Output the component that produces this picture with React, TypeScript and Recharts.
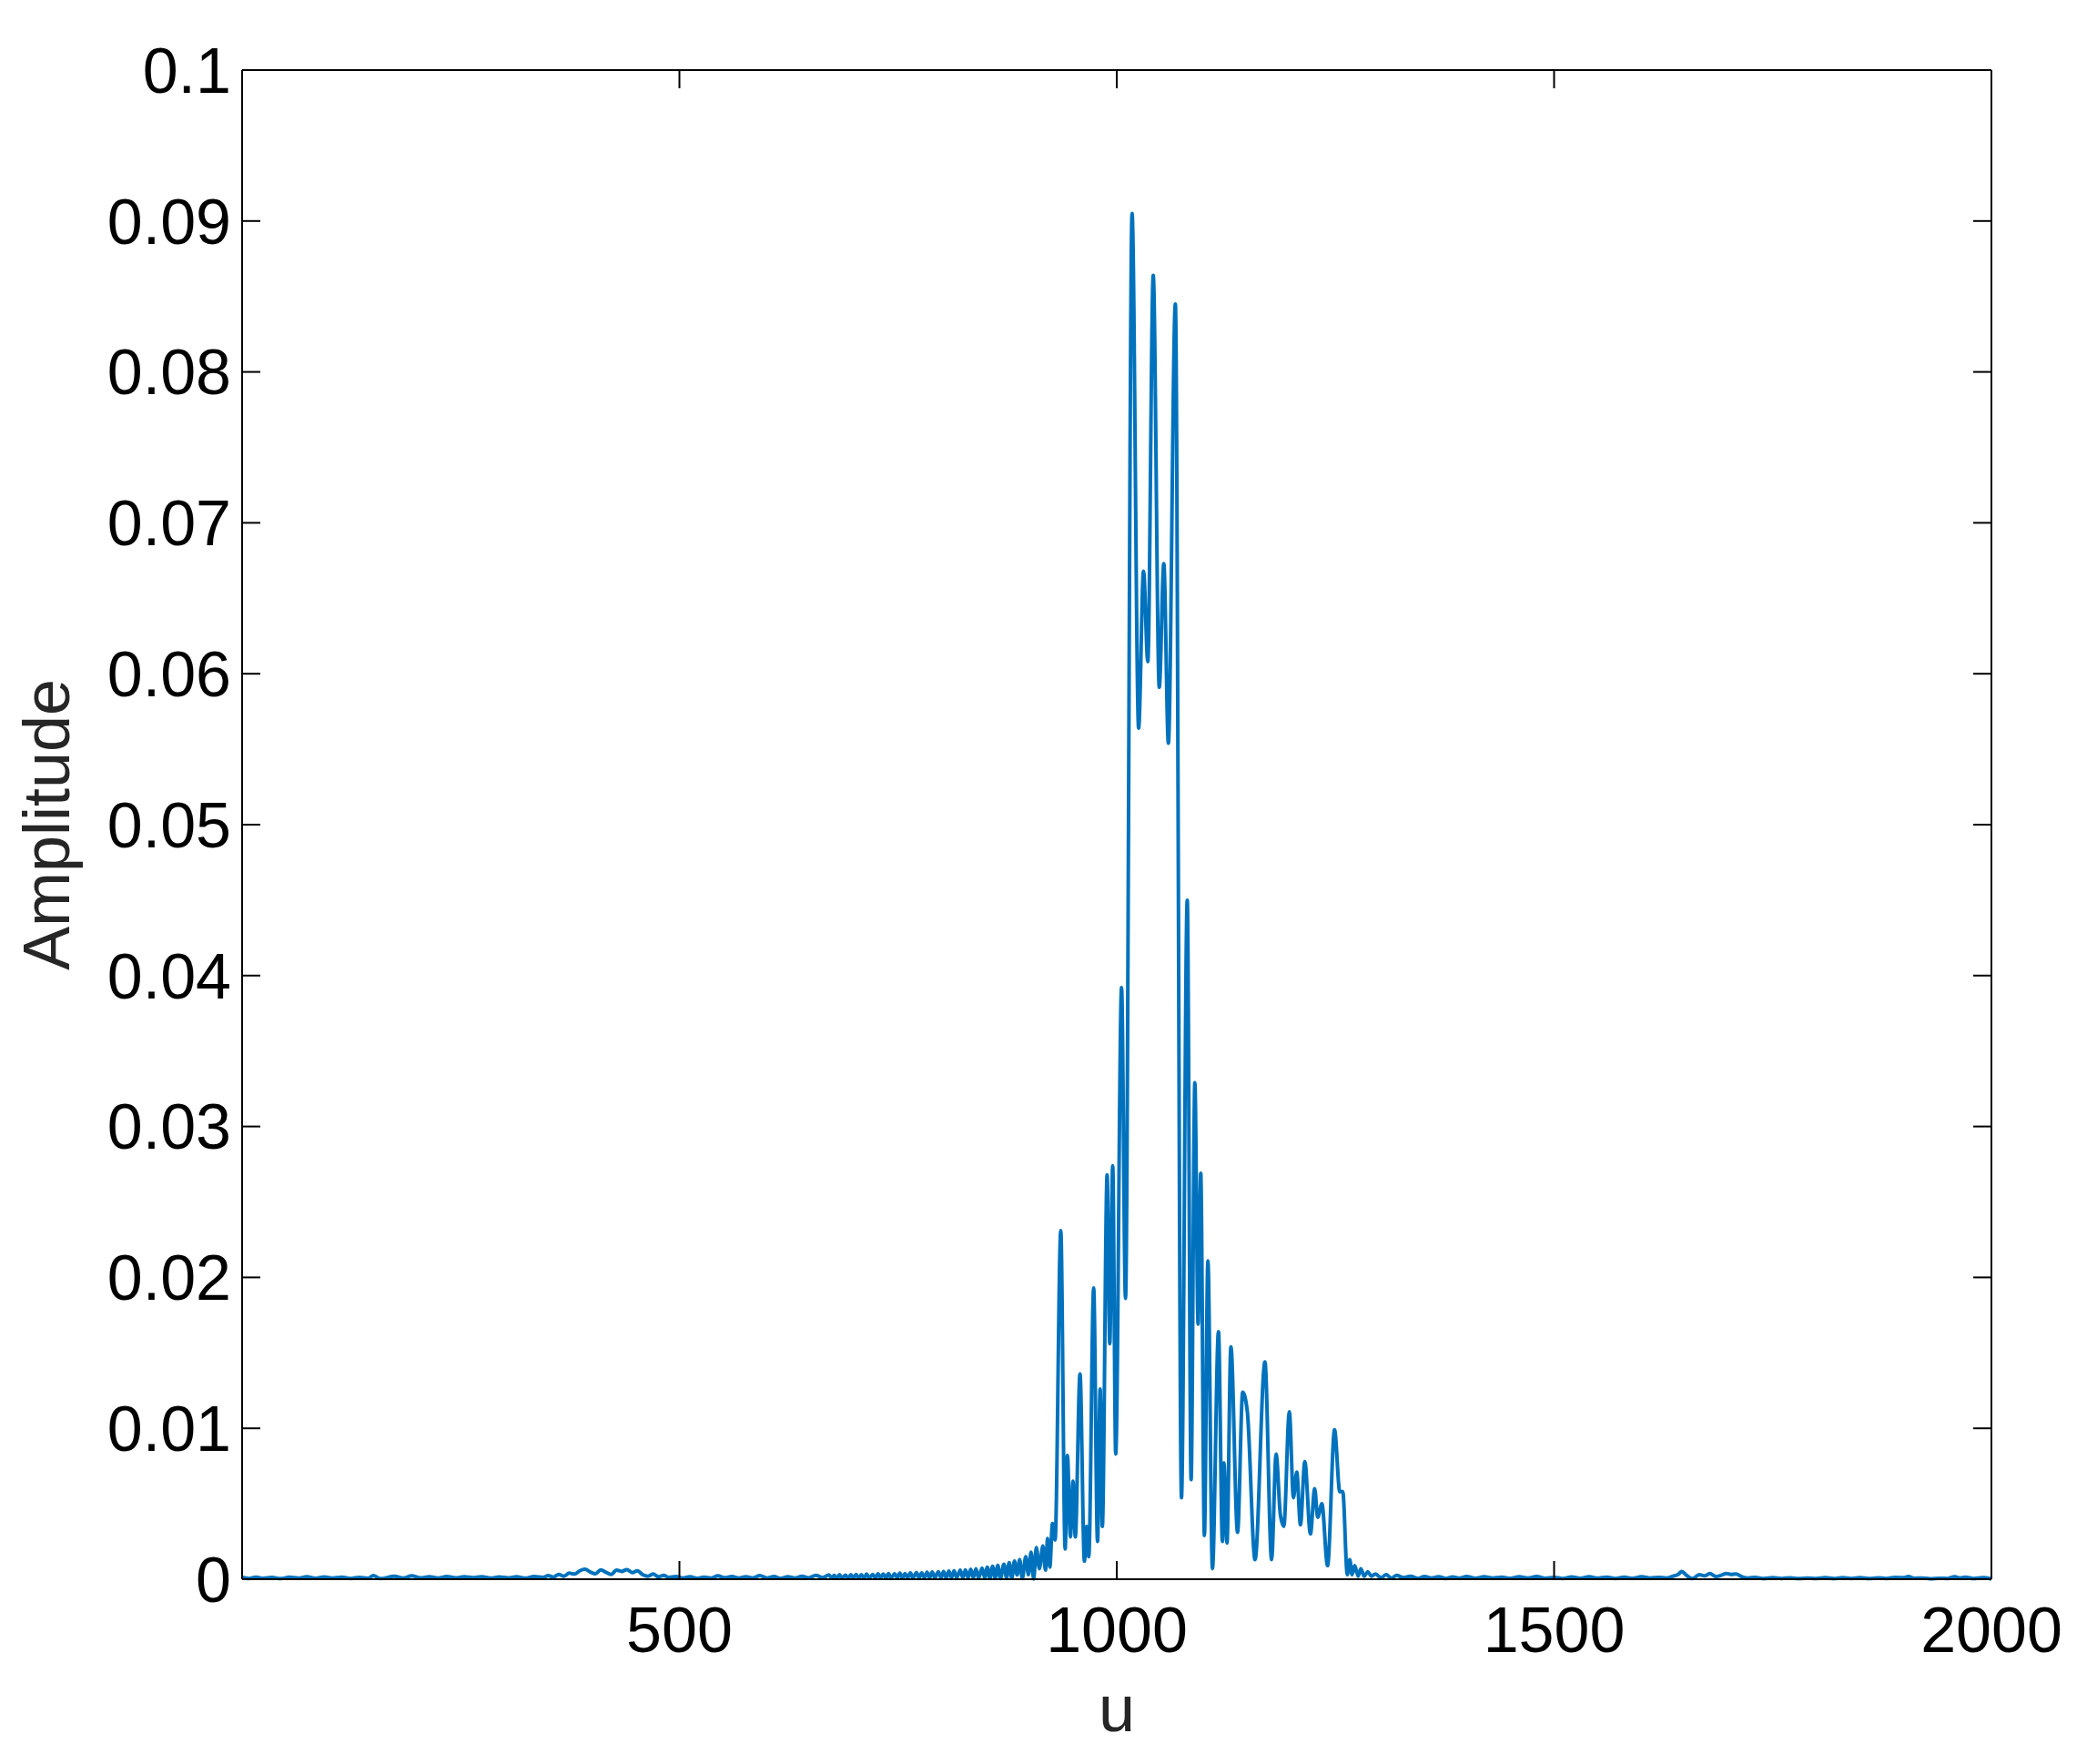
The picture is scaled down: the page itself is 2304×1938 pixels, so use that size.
import { LineChart, Line, XAxis, YAxis } from 'recharts';

const FONT = '"Liberation Sans", Arial, Helvetica, sans-serif';
const LINE_COLOR = '#0072BD';

// [u, amplitude], left to right
const leftNoise = [
  [0, 0.00012], [8, 0.00005], [16, 0.00014], [24, 0.00006], [34, 0.00012], [44, 0.00004],
  [54, 0.00013], [64, 0.00007], [74, 0.00016], [84, 0.00006], [94, 0.00015], [104, 0.00008],
  [114, 0.00014], [124, 0.00005], [134, 0.00012], [144, 0.00006], [150, 0.00024], [158, 0.00004],
  [174, 0.00019], [184, 0.00008], [194, 0.00022], [204, 0.00009], [214, 0.00017], [224, 0.00008],
  [234, 0.00018], [244, 0.00009], [254, 0.00016], [264, 0.0001], [274, 0.00017], [284, 0.00008],
  [294, 0.00015], [304, 0.00009], [314, 0.00016], [324, 0.00007], [334, 0.00018],
];

const leftHump = [
  [344, 0.00012], [350, 0.00024], [356, 0.00014], [362, 0.00032], [368, 0.0002], [374, 0.0004],
  [380, 0.00034], [386, 0.00056], [392, 0.00066], [398, 0.00048], [404, 0.00036], [410, 0.00062],
  [416, 0.00046], [422, 0.00032], [428, 0.0006], [434, 0.00052], [440, 0.00064], [446, 0.00044],
  [452, 0.00056], [458, 0.0003], [464, 0.0002], [470, 0.00034], [476, 0.00016], [482, 0.00026],
  [488, 0.00012],
];

const midNoise = [
  [496, 0.00018], [504, 0.00008], [512, 0.00016], [520, 0.00006], [528, 0.00014], [536, 0.00008],
  [544, 0.00022], [552, 0.0001], [560, 0.00018], [568, 0.00008], [576, 0.00016], [584, 0.00009],
  [592, 0.00024], [600, 0.00008], [608, 0.00018], [616, 0.00006], [624, 0.00016], [632, 0.00008],
  [640, 0.00019], [648, 0.00009], [656, 0.00026], [664, 0.00011],
];

const risingTail = [
  [671, 0.00028], [674, 0.00008], [677, 0.00026], [680, 0.00006], [683, 0.0003], [686, 0.00008],
  [690, 0.00027], [693, 0.00006], [696, 0.0003], [699, 0.00009], [702, 0.00032], [705, 0.00007],
  [708, 0.0003], [711, 0.00008], [714, 0.00034], [717, 0.00008], [721, 0.00032], [724, 0.00007],
  [727, 0.00036], [730, 0.0001], [733, 0.00034], [736, 0.00008], [739, 0.00038], [742, 0.00008],
  [746, 0.00036], [749, 0.0001], [752, 0.0004], [755, 0.00008], [758, 0.00038], [761, 0.0001],
  [764, 0.00042], [767, 0.00009], [771, 0.00044], [774, 0.0001], [777, 0.00042], [780, 0.0001],
  [783, 0.00046], [786, 0.00009], [789, 0.00048], [792, 0.0001], [796, 0.0005], [799, 0.0001],
  [802, 0.00052], [805, 0.00009], [808, 0.00054], [811, 0.0001], [814, 0.00056], [817, 0.00009],
  [821, 0.0006], [824, 0.0001], [827, 0.00062], [830, 0.00008], [833, 0.00066], [836, 0.0001],
  [839, 0.0007], [842, 0.00008], [846, 0.00074], [849, 0.0001], [852, 0.0008], [855, 0.00006],
  [858, 0.00086], [861, 0.00008], [864, 0.00092], [867, 0.00005], [871, 0.001], [874, 0.00008],
  [877, 0.0011], [880, 0.00006], [883, 0.0012], [886, 0.00028], [889, 0.0013], [892, 0.00004],
  [896, 0.0015], [899, 0.0003], [902, 0.0018], [905, 0.00002], [908, 0.0021], [911.5, 0.0007],
];

const mainCluster = [
  [915.5, 0.0022], [918.5, 0.0006], [921, 0.0027], [923.5, 0.0008], [926.5, 0.0037], [929.5, 0.0026],
  [936, 0.0231], [941, 0.002], [943.6, 0.0082], [947, 0.0028], [950, 0.0065], [952.6, 0.0028],
  [958, 0.0136], [963, 0.0012], [965.6, 0.0035], [968, 0.0015], [973.6, 0.0193], [978, 0.0025],
  [981, 0.0126], [983.5, 0.0035], [989, 0.0268], [992, 0.0156], [995.4, 0.0274], [998.8, 0.0083],
  [1005.5, 0.0392], [1010, 0.0186], [1017.5, 0.0905], [1025, 0.0564], [1030.6, 0.0668],
  [1035.5, 0.0608], [1041.7, 0.0864], [1048.6, 0.0591], [1053.8, 0.0673], [1059, 0.0554],
  [1067, 0.0845], [1074, 0.0054], [1080.6, 0.045], [1085, 0.0066], [1089.3, 0.0329], [1093, 0.0169],
  [1096, 0.0269], [1100.2, 0.0029], [1104.2, 0.0211], [1109.4, 0.0007],
];

const rightCluster = [
  [1116.3, 0.0164], [1120.8, 0.0025], [1122.6, 0.0077], [1126, 0.0024], [1130.5, 0.0154],
  [1138.1, 0.0031], [1144, 0.0124], [1149.3, 0.0111], [1158.1, 0.0013], [1169.4, 0.0144],
  [1177, 0.0013], [1182.2, 0.0083], [1187, 0.0043], [1191, 0.0035], [1197.3, 0.0111],
  [1202, 0.0054], [1205.8, 0.0071], [1210, 0.0036], [1215, 0.0078], [1221.4, 0.003],
  [1226.3, 0.006], [1229.7, 0.0041], [1234.5, 0.005], [1241, 0.0009], [1249, 0.0099],
  [1255, 0.0058], [1258.4, 0.0058], [1263.6, 0.0003], [1266.4, 0.0013], [1269, 0.0003],
  [1272, 0.0009], [1276, 0.0002], [1279, 0.0007], [1283, 0.0002], [1287, 0.0005], [1291, 0.0002],
];

const rightNoise = [
  [1296, 0.00035], [1302, 0.0001], [1308, 0.0003], [1314, 0.00008], [1320, 0.00025], [1328, 0.0001],
  [1336, 0.0002], [1344, 0.00006], [1352, 0.00018], [1360, 0.00008], [1368, 0.00016], [1376, 0.00005],
  [1384, 0.00015], [1392, 0.00008], [1400, 0.00018], [1410, 0.00006], [1420, 0.00016], [1430, 0.00008],
  [1440, 0.00014], [1450, 0.00006], [1460, 0.00016], [1470, 0.00008], [1480, 0.00018], [1490, 0.00006],
  [1500, 0.00012], [1510, 0.00005], [1520, 0.00015], [1530, 0.00006], [1540, 0.00016], [1550, 0.00007],
  [1560, 0.00014], [1570, 0.00005], [1580, 0.00013], [1590, 0.00006], [1600, 0.00016], [1610, 0.00008],
  [1620, 0.00012], [1628, 0.00008], [1636, 0.0002], [1642, 0.00032], [1646, 0.00052], [1651, 0.00028],
  [1658, 0.00004], [1666, 0.0003], [1672, 0.00022], [1678, 0.00038], [1685, 0.00018], [1691, 0.00026],
  [1697, 0.00038], [1702, 0.00032], [1708, 0.00034], [1715, 0.00016], [1722, 0.00008], [1730, 0.00012],
  [1740, 0.00004], [1750, 0.0001], [1760, 0.00005], [1770, 0.00009], [1780, 0.00004], [1790, 0.00008],
  [1800, 0.00005], [1810, 0.0001], [1820, 0.00004], [1830, 0.00011], [1840, 0.00005], [1850, 0.0001],
  [1860, 0.00004], [1870, 0.00009], [1880, 0.00005], [1890, 0.00012], [1900, 0.0001], [1905, 0.00018],
  [1912, 0.00006], [1920, 0.00008], [1930, 0.00003], [1940, 0.00006], [1950, 0.00005], [1958, 0.00016],
  [1964, 0.00008], [1970, 0.00014], [1980, 0.00004], [1990, 0.0001], [2000, 0.00002],
];

const xTicks = [500, 1000, 1500, 2000];
const yTicks = [0, 0.01, 0.02, 0.03, 0.04, 0.05, 0.06, 0.07, 0.08, 0.09, 0.1];

const data = [...leftNoise, ...leftHump, ...midNoise, ...risingTail, ...mainCluster, ...rightCluster, ...rightNoise]
  .map(([u, amp]) => ({ u, amp }));

const TICK_LEN = 20;
const axisStroke = { stroke: '#000', strokeWidth: 2 };
const textProps = { fill: '#000', fontSize: 70, fontFamily: FONT };

// MATLAB-style ticks: marks point into the plot, labels sit outside
function LeftTick(props: any) {
  const { x, y, payload } = props;
  return (
    <g>
      <line x1={x + 12} x2={x + 12 + TICK_LEN} y1={y} y2={y} stroke="#000" strokeWidth={2} />
      <text x={x} y={y} dy="0.355em" textAnchor="end" {...textProps}>{String(+payload.value.toFixed(2))}</text>
    </g>
  );
}

function BottomTick(props: any) {
  const { x, y, payload } = props;
  return (
    <g>
      <line x1={x} x2={x} y1={y - 30} y2={y - 30 - TICK_LEN} stroke="#000" strokeWidth={2} />
      <text x={x} y={y} dy="0.71em" textAnchor="middle" {...textProps}>{payload.value}</text>
    </g>
  );
}

function RightTick(props: any) {
  const { x, y } = props;
  return <line x1={x} x2={x - TICK_LEN} y1={y} y2={y} stroke="#000" strokeWidth={2} />;
}

function TopTick(props: any) {
  const { x, y } = props;
  return <line x1={x} x2={x} y1={y} y2={y + TICK_LEN} stroke="#000" strokeWidth={2} />;
}

export default function App() {
  return (
    <LineChart width={2288} height={1920} data={data} margin={{ top: 68, right: 107, left: 0, bottom: 0 }}>
      <XAxis
        dataKey="u" type="number" domain={[0, 2000]} ticks={xTicks} interval={0}
        height={193} tickSize={0} tickMargin={30} tick={<BottomTick />} tickLine={false}
        axisLine={axisStroke}
        label={{ value: 'u', position: 'insideBottom', offset: 26, fill: '#262626', fontSize: 72, fontFamily: FONT }}
      />
      <XAxis
        xAxisId="top" orientation="top" dataKey="u" type="number" domain={[0, 2000]} ticks={xTicks}
        interval={0} height={1} tickSize={0} tickMargin={0} tick={<TopTick />} tickLine={false}
        axisLine={axisStroke}
      />
      <YAxis
        type="number" domain={[0, 0.1]} ticks={yTicks} interval={0} width={258}
        tickSize={0} tickMargin={12} tick={<LeftTick />} tickLine={false} axisLine={axisStroke}
        label={{
          value: 'Amplitude', angle: -90, position: 'insideLeft', offset: 42,
          fill: '#262626', fontSize: 72, fontFamily: FONT, style: { textAnchor: 'middle' },
        }}
      />
      <YAxis
        yAxisId="right" orientation="right" type="number" domain={[0, 0.1]} ticks={yTicks} interval={0}
        width={1} tickSize={0} tickMargin={0} tick={<RightTick />} tickLine={false} axisLine={axisStroke}
      />
      <Line
        dataKey="amp" type="monotone" stroke={LINE_COLOR} strokeWidth={4} dot={false}
        isAnimationActive={false}
      />
      <Line
        xAxisId="top" yAxisId="right" dataKey="amp" stroke="none" dot={false} legendType="none"
        isAnimationActive={false}
      />
    </LineChart>
  );
}
